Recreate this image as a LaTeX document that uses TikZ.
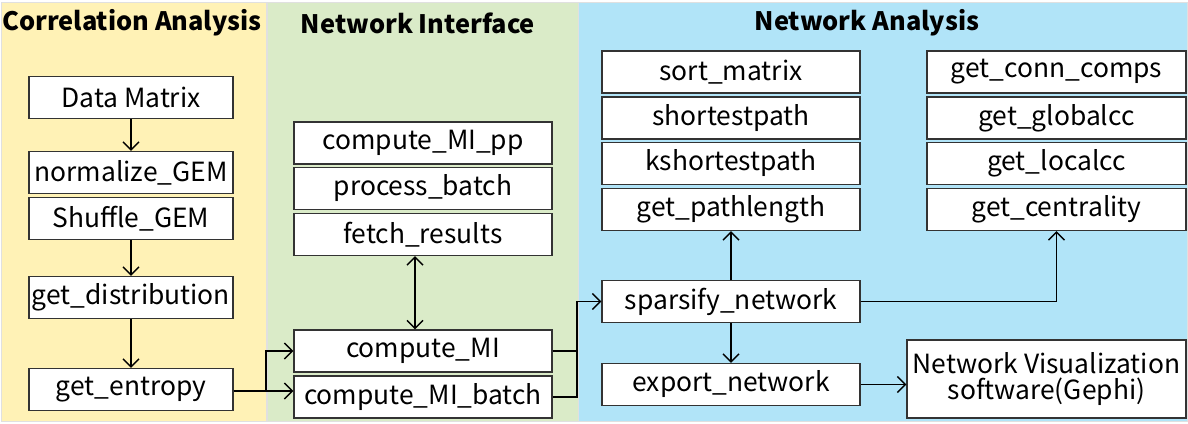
\documentclass[tikz,border=0pt]{standalone}
\usepackage{fontspec}
\setmainfont{Noto Sans CJK SC}
\usetikzlibrary{arrows.meta, positioning}
\definecolor{corryellow}{RGB}{255, 242, 182}
\definecolor{netgreen}{RGB}{218, 235, 200}
\definecolor{anablue}{RGB}{177, 228, 248}

\begin{document}
\begin{tikzpicture}[x=0.5pt, y=-0.5pt,
        panel/.style={draw=black!12, line width=0.5pt},
        box/.style={draw=black!80, fill=white, minimum height=21pt, inner sep=0pt, font=\fontsize{13.2}{15}\selectfont, line width=0.6pt},
        title/.style={font=\fontsize{12.7}{15}\selectfont\bfseries},
        link/.style={-{Straight Barb[length=4pt, width=8pt]}, line width=0.7pt},
      ]
      \useasboundingbox (0, 0) rectangle (1188, 423);
      % panels
      \fill[panel, fill=corryellow] (1, 2) rectangle (266, 421);
      \fill[panel, fill=netgreen] (267, 2) rectangle (578, 421);
      \fill[panel, fill=anablue] (578, 2) rectangle (1187, 421);
      \draw[panel] (1, 2) rectangle (266, 421);
      \draw[panel] (267, 2) rectangle (578, 421);
      \draw[panel] (578, 2) rectangle (1187, 421);
      \node[title] (tcorr) at (132, 23) {Correlation Analysis};
      \node[title] (tnet) at (418, 23) {Network Interface};
      \node[title] (tana) at (867, 23) {Network Analysis};

      % correlation analysis
      \node[box, minimum width=102pt] (matrix) at (131, 97.5) {Data Matrix};
      \node[box, minimum width=102pt] (normalize) at (131, 172.5) {normalize\_GEM};
      \node[box, minimum width=102pt] (shuffle) at (131, 218.5) {Shuffle\_GEM};
      \node[box, minimum width=102pt] (distrib) at (131, 297.5) {get\_distribution};
      \node[box, minimum width=102pt] (entropy) at (131, 389.5) {get\_entropy};

      % network interface
      \node[box, minimum width=129pt] (mipp) at (423, 143) {compute\_MI\_pp};
      \node[box, minimum width=129pt] (batch) at (423, 188.5) {process\_batch};
      \node[box, minimum width=129pt] (fetch) at (423, 234.5) {fetch\_results};
      \node[box, minimum width=129pt] (mi) at (423, 351) {compute\_MI};
      \node[box, minimum width=129pt] (mibatch) at (423, 397) {compute\_MI\_batch};

      % network analysis
      \node[box, minimum width=129pt] (sort) at (731, 72) {sort\_matrix};
      \node[box, minimum width=129pt] (short) at (731, 118) {shortestpath};
      \node[box, minimum width=129pt] (kshort) at (731, 163.5) {kshortestpath};
      \node[box, minimum width=129pt] (length) at (731, 209.5) {get\_pathlength};
      \node[box, minimum width=129pt] (sparse) at (731, 301.5) {sparsify\_network};
      \node[box, minimum width=129pt] (export) at (731, 384.5) {export\_network};
      \node[box, minimum width=129.5pt] (comps) at (1056.5, 72) {get\_conn\_comps};
      \node[box, minimum width=129.5pt] (global) at (1056.5, 118) {get\_globalcc};
      \node[box, minimum width=129.5pt] (local) at (1056.5, 163.5) {get\_localcc};
      \node[box, minimum width=129.5pt] (central) at (1056.5, 209.5) {get\_centrality};
      \node[box, minimum width=139.5pt, minimum height=39pt, align=center] (gephi) at (1046.5, 379) {Network Visualization\\[-2pt]software(Gephi)};

      % connectors
      \coordinate (split) at (266, 391);
      \coordinate (join) at (577, 301.5);
      \draw[link] (matrix) -- (normalize);
      \draw[link] (shuffle) -- (distrib);
      \draw[link] (distrib) -- (entropy);
      \draw[link] (entropy.east |- split) -- (split -| mibatch.west);
      \draw[link] (entropy.east |- split) -- (split) |- (mi.west);
      \draw[{Straight Barb[length=4pt, width=8pt]}-{Straight Barb[length=4pt, width=8pt]}, line width=0.7pt] ([xshift=-4pt]fetch.south) -- ([xshift=-4pt]mi.north);
      \draw[line width=0.7pt] (mi.east) -- (mi.east -| join);
      \draw[link] (mibatch.east) -| (join) -- (sparse.west);
      \draw[link] (sparse) -- (length);
      \draw[link] (sparse.east) -| (central.south);
      \draw[link] (sparse) -- (export);
      \draw[link] (export.east) -- (export.east -| gephi.west);
\end{tikzpicture}
\end{document}
